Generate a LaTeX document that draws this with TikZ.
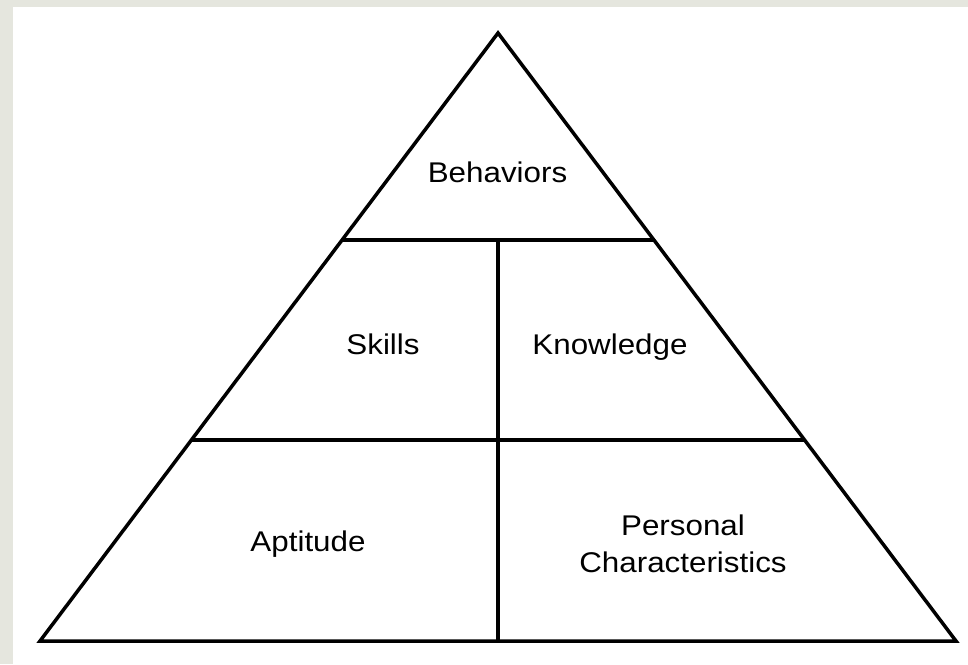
\documentclass[tikz,border=0pt]{standalone}
\usepackage{fontspec}
\usepackage{graphicx}
\setmainfont{Liberation Sans}
\usetikzlibrary{calc}
\definecolor{bggray}{RGB}{229,230,222}
\newcommand{\hstr}[1]{\scalebox{1.1}[1]{#1}}
\begin{document}
\begin{tikzpicture}[x=1pt,y=-1pt,
  edge/.style={line width=3.5pt, line join=miter, line cap=rect},
  lbl/.style={font=\fontsize{28.5}{38}\selectfont, inner sep=0pt, anchor=base}]
\useasboundingbox (0,0) rectangle (968,664);
\fill[bggray] (0,0) rectangle (968,664);
\fill[white] (13,7) rectangle (968,664);
\coordinate (A) at (498,33);
\coordinate (BL) at (40,641);
\coordinate (BR) at (956,641);
\coordinate (L1) at ($(BL)!0.6595!(A)$);
\coordinate (R1) at ($(BR)!0.6595!(A)$);
\coordinate (L2) at ($(BL)!0.3306!(A)$);
\coordinate (R2) at ($(BR)!0.3306!(A)$);
\coordinate (M1) at (498,240);
\coordinate (M2) at (498,641);
\draw[edge] (A) -- (BL) -- (BR) -- cycle;
\draw[edge, line cap=butt] (L1) -- (R1);
\draw[edge, line cap=butt] (L2) -- (R2);
\draw[edge, line cap=butt] (M1) -- (M2);
\node[lbl] (beh) at (497.5,182) {\hstr{Behaviors}};
\node[lbl] (ski) at (383,354) {\hstr{Skills}};
\node[lbl] (kno) at (610,354) {\hstr{Knowledge}};
\node[lbl] (apt) at (308,551.5) {\hstr{Aptitude}};
\node[lbl] (per) at (683,535) {\hstr{Personal}};
\node[lbl] (cha) at (683,572.7) {\hstr{Characteristics}};
\end{tikzpicture}
\end{document}
